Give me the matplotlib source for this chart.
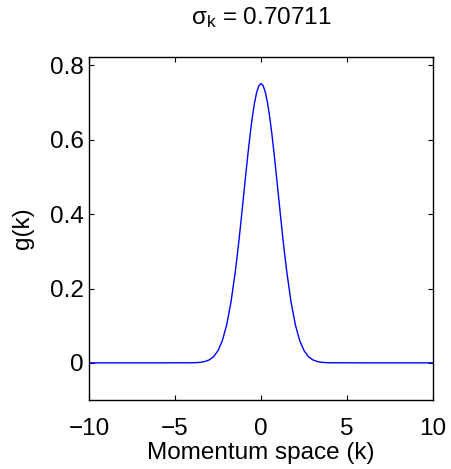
import matplotlib
matplotlib.use("Agg")
import matplotlib.pyplot as plt

plt.rcParams["font.family"] = ["Liberation Sans", "DejaVu Sans"]
plt.rcParams["mathtext.fontset"] = "custom"
plt.rcParams["mathtext.rm"] = "Liberation Sans"
plt.rcParams["mathtext.it"] = "Liberation Sans"

# momentum-space amplitude
k = [-10.0, -6.0, -4.0, -3.75, -3.5, -3.25, -3.0, -2.75, -2.5, -2.25, -2.0,
     -1.75, -1.5, -1.375, -1.25, -1.125, -1.0, -0.875, -0.75, -0.625, -0.5,
     -0.375, -0.25, -0.125, 0.0,
     0.125, 0.25, 0.375, 0.5, 0.625, 0.75, 0.875, 1.0, 1.125, 1.25, 1.375, 1.5,
     1.75, 2.0, 2.25, 2.5, 2.75, 3.0, 3.25, 3.5, 3.75, 4.0, 6.0, 10.0]
g = [0.0, 0.0, 0.0003, 0.0007, 0.0016, 0.0038, 0.0083, 0.0171, 0.0330, 0.0598, 0.1017,
     0.1625, 0.2439, 0.2918, 0.3439, 0.3989, 0.4556, 0.5122, 0.5669, 0.6178, 0.6628,
     0.7001, 0.7280, 0.7453, 0.7511,
     0.7453, 0.7280, 0.7001, 0.6628, 0.6178, 0.5669, 0.5122, 0.4556, 0.3989, 0.3439, 0.2918, 0.2439,
     0.1625, 0.1017, 0.0598, 0.0330, 0.0171, 0.0083, 0.0038, 0.0016, 0.0007, 0.0003, 0.0, 0.0]
sigma_k = "0.70711"
xticks = [-10, -5, 0, 5, 10]
yticks = [0, 0.2, 0.4, 0.6, 0.8]

FS = 17.5

fig = plt.figure(figsize=(4.52, 4.69), dpi=100)
ax = fig.add_axes([0.197, 0.147, 0.761, 0.731])
ax.plot(k, g, color="#0000ff", lw=1.0)

ax.set_xlim(-10, 10)
ax.set_ylim(-0.1, 0.822)
ax.set_xticks(xticks)
ax.set_xticklabels(["\u2212" + str(abs(t)) if t < 0 else str(t) for t in xticks])
ax.set_yticks(yticks)
ax.set_yticklabels(["0" if t == 0 else f"{t:.1f}" for t in yticks])
ax.tick_params(direction="in", top=True, right=True, length=3.5, width=0.8,
               labelsize=FS)
ax.tick_params(axis="x", pad=13)
ax.tick_params(axis="y", pad=4)
for s in ax.spines.values():
    s.set_linewidth(1.0)

ax.set_xlabel("Momentum space (k)", fontsize=FS, labelpad=1)
ax.set_ylabel("g(k)", fontsize=FS, labelpad=11)
ax.set_title(r"σ$_\mathregular{k}$ = " + sigma_k, fontsize=FS, pad=24)

fig.savefig("out.png", dpi=100, facecolor="white")
